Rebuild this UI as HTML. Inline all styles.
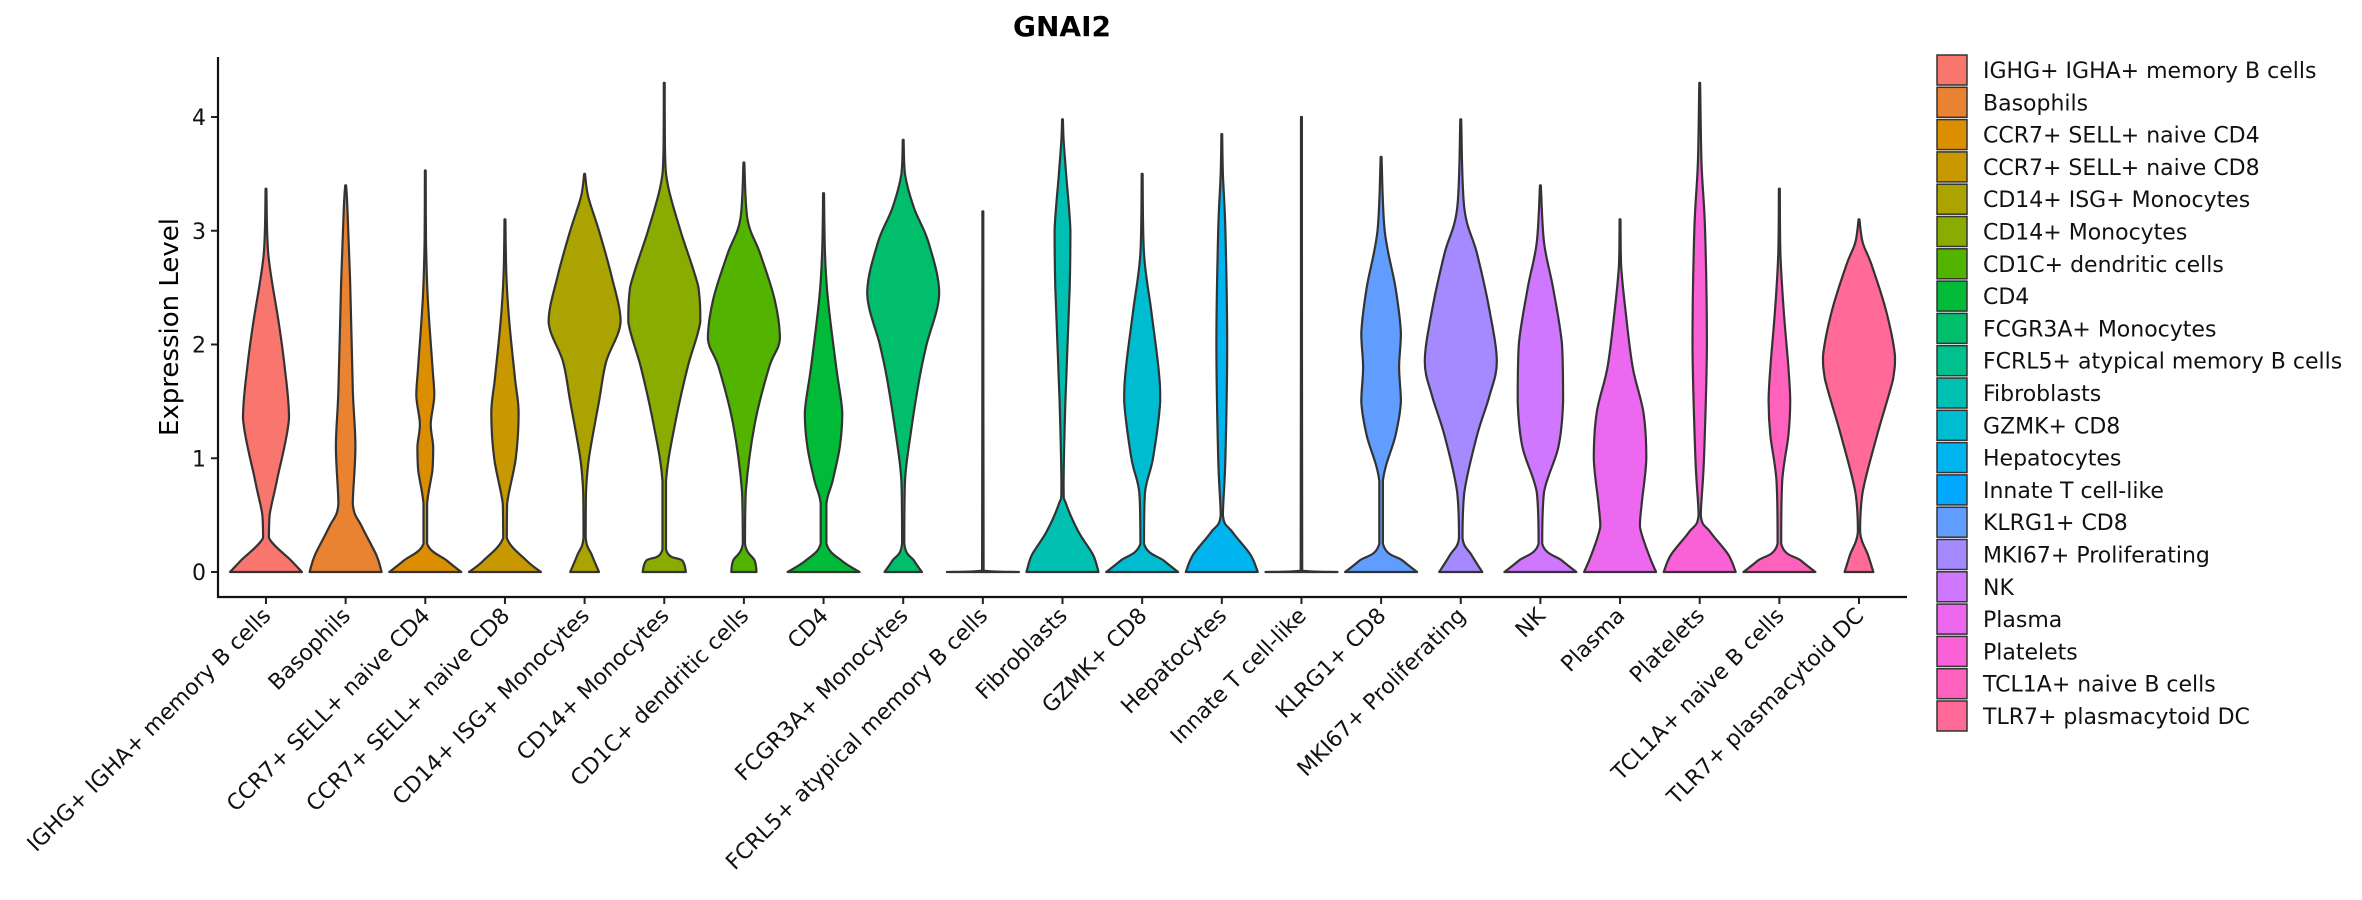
<!DOCTYPE html>
<html><head><meta charset="utf-8">
<style>
html,body{margin:0;padding:0;background:#fff;}
svg{display:block;font-family:"DejaVu Sans","Liberation Sans",sans-serif;}
</style></head>
<body>
<svg id="chart" width="2362" height="900" viewBox="0 0 2362 900" xmlns="http://www.w3.org/2000/svg">
<text x="1062" y="36" text-anchor="middle" font-size="28" font-weight="bold">GNAI2</text>
<text transform="translate(178,327) rotate(-90)" text-anchor="middle" font-size="26">Expression Level</text>
<g id="plot"></g>
<g id="legend"></g>
</svg>
<script>
const categories = [" IGHG+ IGHA+ memory B cells","Basophils","CCR7+ SELL+ naive CD4","CCR7+ SELL+ naive CD8","CD14+ ISG+ Monocytes","CD14+ Monocytes","CD1C+ dendritic cells","CD4","FCGR3A+ Monocytes","FCRL5+ atypical memory B cells","Fibroblasts","GZMK+ CD8","Hepatocytes","Innate T cell-like","KLRG1+ CD8","MKI67+ Proliferating","NK","Plasma","Platelets","TCL1A+ naive B cells","TLR7+ plasmacytoid DC"];
const colors = ["#F8766D","#EA8331","#DB8E00","#C79800","#AAA300","#8AAB00","#53B400","#00BA38","#00BE6C","#00C08D","#00C0B2","#00BCD1","#00B4EF","#00A9FF","#619CFF","#A58AFF","#CF78FF","#EC69EF","#FB61D7","#FF62BC","#FF6A98"];
const maxValues = [3.37,3.4,3.53,3.1,3.5,4.3,3.6,3.33,3.8,3.17,3.98,3.5,3.85,4.0,3.65,3.98,3.4,3.1,4.3,3.37,3.1];
const yTicks = [0,1,2,3,4];
// density profiles: [expression, relative half-width]
const d0 = [[0,1],[0.1,0.7],[0.3,0.08],[0.5,0.1],[0.8,0.3],[1.35,0.64],[1.8,0.52],[2.2,0.35],[2.8,0.06]];
const d1 = [[0,1],[0.15,0.85],[0.4,0.45],[0.6,0.2],[1.1,0.27],[1.6,0.2],[2.5,0.13],[3.2,0.05]];
const d2 = [[0,1],[0.1,0.6],[0.25,0.05],[0.6,0.05],[0.9,0.2],[1.1,0.22],[1.3,0.15],[1.55,0.25],[1.8,0.2],[2.4,0.07],[2.9,0.02]];
const d3 = [[0,1],[0.1,0.6],[0.3,0.05],[0.6,0.06],[1,0.3],[1.4,0.38],[1.7,0.28],[2.2,0.12],[2.6,0.04]];
const d4 = [[0,0.4],[0.15,0.2],[0.3,0.03],[0.7,0.04],[1.0,0.12],[1.5,0.4],[1.85,0.6],[2.2,1.0],[2.6,0.75],[3.0,0.4],[3.3,0.1]];
const d5 = [[0,0.6],[0.1,0.5],[0.2,0.05],[0.8,0.05],[1.3,0.3],[1.8,0.65],[2.2,1.0],[2.5,0.95],[3,0.45],[3.4,0.1],[3.7,0.02]];
const d6 = [[0,0.35],[0.1,0.3],[0.25,0.03],[0.7,0.05],[1.3,0.3],[1.8,0.7],[2.05,1.0],[2.4,0.85],[2.8,0.45],[3.1,0.1]];
const d7 = [[0,1],[0.1,0.5],[0.25,0.08],[0.6,0.08],[0.8,0.25],[1.1,0.45],[1.4,0.52],[1.8,0.35],[2.4,0.12],[2.8,0.04]];
const d8 = [[0,0.52],[0.1,0.3],[0.25,0.03],[0.8,0.05],[1.2,0.2],[1.7,0.45],[2.0,0.65],[2.45,1.0],[2.9,0.7],[3.2,0.3],[3.5,0.05]];
const d9 = [[0,1],[0.012,0.02]];
const d10 = [[0,1],[0.15,0.85],[0.35,0.45],[0.6,0.1],[0.75,0.03],[1.5,0.08],[2.5,0.2],[3.0,0.22],[3.5,0.1],[3.8,0.03]];
const d11 = [[0,1],[0.1,0.6],[0.25,0.05],[0.7,0.08],[1.0,0.3],[1.5,0.5],[1.8,0.45],[2.3,0.25],[2.8,0.05]];
const d12 = [[0,1],[0.15,0.8],[0.35,0.3],[0.5,0.03],[1,0.1],[2.0,0.15],[3.0,0.1],[3.5,0.03]];
const d13 = [[0,1],[0.012,0.02]];
const d14 = [[0,1],[0.1,0.6],[0.25,0.05],[0.8,0.05],[1.2,0.4],[1.5,0.55],[1.8,0.5],[2.1,0.55],[2.5,0.4],[3.0,0.1]];
const d15 = [[0,0.6],[0.15,0.3],[0.3,0.05],[0.7,0.1],[1.2,0.45],[1.55,0.8],[1.85,1.0],[2.3,0.8],[2.8,0.45],[3.2,0.1]];
const d16 = [[0,1],[0.1,0.6],[0.25,0.05],[0.7,0.1],[1.1,0.5],[1.5,0.63],[2.0,0.6],[2.5,0.35],[2.9,0.1]];
const d17 = [[0,1],[0.15,0.8],[0.4,0.55],[0.6,0.6],[1.0,0.73],[1.4,0.65],[1.8,0.35],[2.3,0.15],[2.7,0.03]];
const d18 = [[0,1],[0.15,0.8],[0.35,0.3],[0.5,0.03],[1,0.12],[2,0.2],[3,0.15],[3.6,0.05]];
const d19 = [[0,1],[0.1,0.6],[0.25,0.05],[0.8,0.08],[1.2,0.25],[1.5,0.3],[1.8,0.25],[2.3,0.12],[2.8,0.03]];
const d20 = [[0,0.4],[0.15,0.25],[0.35,0.03],[0.7,0.1],[1.2,0.5],[1.7,0.95],[1.9,1.0],[2.3,0.75],[2.7,0.35],[2.9,0.1]];
const densities = [d0,d1,d2,d3,d4,d5,d6,d7,d8,d9,d10,d11,d12,d13,d14,d15,d16,d17,d18,d19,d20];

const NS = "http://www.w3.org/2000/svg";
const X0 = 218, X1 = 1907, YTOP = 57, YBOT = 597;
const firstX = 266, stepX = 79.65, halfMax = 36;
const yScale = v => 572 - v * 113.75;
const xScale = i => firstX + i * stepX;
const plot = document.getElementById('plot');
const legend = document.getElementById('legend');
function mk(tag, attrs, parent){ const e=document.createElementNS(NS,tag); for(const k in attrs) e.setAttribute(k,attrs[k]); parent.appendChild(e); return e; }
const clamp = (v,a,b)=>Math.max(Math.min(a,b),Math.min(Math.max(a,b),v));

function smoothSide(pts){
  let d = "";
  for(let i=0;i<pts.length-1;i++){
    const p0=pts[Math.max(0,i-1)],p1=pts[i],p2=pts[i+1],p3=pts[Math.min(pts.length-1,i+2)];
    const c1=[clamp(p1[0]+(p2[0]-p0[0])/6,p1[0],p2[0]),clamp(p1[1]+(p2[1]-p0[1])/6,p1[1],p2[1])];
    const c2=[clamp(p2[0]-(p3[0]-p1[0])/6,p1[0],p2[0]),clamp(p2[1]-(p3[1]-p1[1])/6,p1[1],p2[1])];
    d += ` C${c1[0].toFixed(1)},${c1[1].toFixed(1)} ${c2[0].toFixed(1)},${c2[1].toFixed(1)} ${p2[0].toFixed(1)},${p2[1].toFixed(1)}`;
  }
  return d;
}

categories.forEach((c,i)=>{
  const cx = xScale(i);
  const prof = densities[i].slice();
  prof.push([maxValues[i], 0.012]);
  const right = prof.map(p=>[cx + p[1]*halfMax, yScale(p[0])]);
  const left = prof.slice().reverse().map(p=>[cx - p[1]*halfMax, yScale(p[0])]);
  let d = `M${left[left.length-1][0].toFixed(1)},${yScale(0).toFixed(1)} L${right[0][0].toFixed(1)},${right[0][1].toFixed(1)}`;
  d += smoothSide(right);
  d += ` L${left[0][0].toFixed(1)},${left[0][1].toFixed(1)}`;
  d += smoothSide(left);
  d += " Z";
  const v = mk('path',{d:d,fill:colors[i],stroke:'#333','stroke-width':2.2,'stroke-linejoin':'round'},plot);
  
  
  const t = mk('line',{x1:cx,x2:cx,y1:YBOT,y2:YBOT+7,stroke:'#222','stroke-width':2},plot);
  
  
  const lb = mk('text',{transform:`translate(${cx+6},${YBOT+20}) rotate(-45)`,'text-anchor':'end','font-size':22,fill:'#111'},plot);
  lb.textContent = c.trim();
  
  

  const ly = 55 + i*32.3;
  const sw = mk('rect',{x:1937,y:ly,width:30,height:30,fill:colors[i],stroke:'#333','stroke-width':1.5},legend);
  
  
  const lt = mk('text',{x:1983,y:ly+23,'font-size':22,fill:'#111','xml:space':'preserve'},legend);
  lt.textContent = c;
  
  
});

yTicks.forEach(v=>{
  const y = yScale(v);
  const t = mk('line',{x1:X0-7,x2:X0,y1:y,y2:y,stroke:'#222','stroke-width':2},plot);
  
  
  const l = mk('text',{x:X0-12,y:y+8,'text-anchor':'end','font-size':22,fill:'#111'},plot);
  l.textContent = v;
  
  
});
const ya = mk('line',{x1:X0,x2:X0,y1:YTOP,y2:YBOT+1,stroke:'#111','stroke-width':2.2},plot);


const xa = mk('line',{x1:X0-1,x2:X1,y1:YBOT,y2:YBOT,stroke:'#111','stroke-width':2.2},plot);


</script>
</body></html>
